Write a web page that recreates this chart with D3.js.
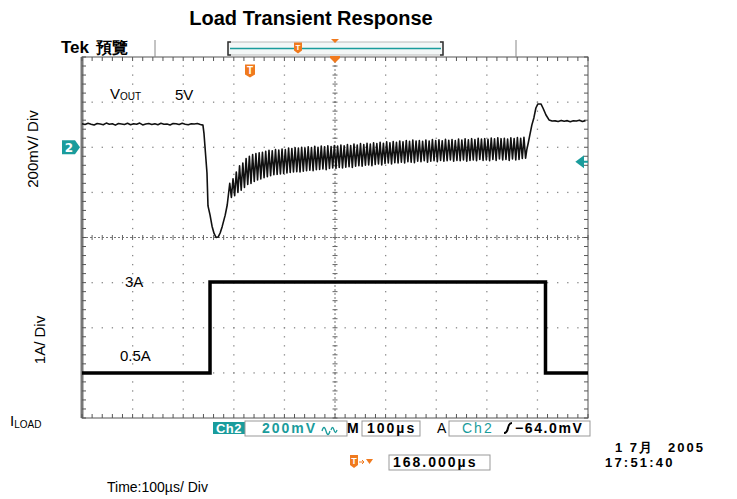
<!DOCTYPE html>
<html>
<head>
<meta charset="utf-8">
<script src="https://cdn.jsdelivr.net/npm/d3@7"></script>
<style>
  body { margin: 0; background: #fff; }
  svg { display: block; }
  text { font-family: "Liberation Sans", Arial, sans-serif; }
  .scope { font-family: "DejaVu Sans", "Noto Sans CJK TC", sans-serif; font-weight: bold; letter-spacing: 2px; }
</style>
</head>
<body>
<svg width="737" height="499"></svg>
<script>
// time axis: 100 µs/div, 10 divisions
const timeDomain = [0, 1000];
// Ch2 VOUT in mV relative to the ch2 marker, 200 mV/div
const voltDomain = [400, -1200];

// flat VOUT before the load step, one sample every 6 µs from t=0
const preStep = 6;
const preFlat = [104, 101, 106, 102, 99, 105, 103, 100, 107, 102, 104, 98, 105, 103, 101, 106, 100, 104, 102, 107,
                 99, 103, 105, 101, 104, 100, 106, 102, 103, 99, 105, 104, 101, 106, 102, 100, 104, 103, 105, 101];

// undershoot after the 0.5A -> 3A step  [µs, mV]
const dropPoints = [[239, 98], [241, 63], [247, -114], [249, -260], [253, -300], [257, -350], [261, -382],
                    [265, -400], [269, -398], [273, -380], [277, -352], [283, -301], [287, -256]];

// switching ripple while loaded: [high, low] mV per cycle, cycle starts at 292 µs
const rippleStart = 292;
const rippleHalf = 3.23;
const ripple = [
  [-160, -222], [-140, -215], [-110, -200], [-82, -190], [-70, -178], [-50, -165], [-40, -160], [-32, -152],
  [-28, -145], [-25, -140], [-22, -135], [-18, -130], [-14, -126], [-16, -122], [-10, -120], [-12, -118],
  [-8, -116], [-10, -114], [-4, -112], [-6, -110], [-2, -108], [-4, -110], [0, -106], [-3, -104],
  [2, -102], [-1, -104], [4, -100], [0, -98], [5, -96], [2, -100], [6, -94], [3, -92],
  [8, -94], [5, -90], [10, -92], [6, -88], [12, -86], [8, -90], [14, -84], [10, -82],
  [16, -84], [12, -80], [18, -78], [14, -82], [20, -76], [16, -74], [22, -78], [18, -72],
  [24, -70], [20, -74], [25, -68], [22, -70], [28, -66], [24, -70], [30, -64], [26, -66],
  [32, -68], [28, -62], [30, -64], [26, -60], [32, -66], [28, -62], [34, -60], [30, -64],
  [33, -58], [29, -62], [35, -60], [31, -56], [34, -62], [30, -58], [36, -60], [32, -56],
  [37, -62], [33, -58], [38, -56], [34, -60], [40, -54], [36, -58], [38, -56], [35, -60],
  [41, -54], [37, -58], [42, -52], [38, -56], [40, -54], [36, -58], [42, -52], [39, -56],
  [43, -54], [40, -50], [44, -48]
];

// overshoot after the 3A -> 0.5A release  [µs, mV]
const recoveryPoints = [[879, -12], [882, 20], [885, 54], [889, 98], [893, 130], [897, 174], [901, 192],
                        [907, 192], [911, 174], [917, 143], [923, 121], [929, 116]];

// flat VOUT after the release, one sample every 6 µs from 935 µs
const postStart = 935;
const postStep = 6;
const postFlat = [117, 114, 119, 115, 118, 113, 117, 116, 120, 114, 118];

// load current step
const loadTimes = [0, 253, 253, 916, 916, 1000];
const loadAmps = [0.5, 0.5, 3, 3, 0.5, 0.5];

const teal = "#1a9c9c";
const orange = "#f07a1e";

const svg = d3.select("svg");
const pL = 82, pR = 588, pT = 57, pB = 418;

const x = d3.scaleLinear().domain(timeDomain).range([pL, pR]);
const yV = d3.scaleLinear().domain(voltDomain).range([pT, pB]);
const yI = d3.scaleLinear().domain([0.5, 3]).range([373, 282]);
const gx = d3.scaleLinear().domain([0, 10]).range([pL, pR]);
const gy = d3.scaleLinear().domain([0, 8]).range([pT, pB]);

// ---- graticule ----
const grid = svg.append("g");
const fifthsX = d3.range(0, 50.5).map(i => i / 5);
const fifthsY = d3.range(0, 40.5).map(i => i / 5);

[1, 2, 3, 4, 6, 7, 8, 9].forEach(i => {
  grid.selectAll(null).data(fifthsY.slice(1, -1)).enter().append("rect")
    .attr("x", gx(i) - 0.6).attr("y", d => gy(d) - 0.6)
    .attr("width", 1.3).attr("height", 1.3).attr("fill", "#888");
});
[1, 2, 3, 5, 6, 7].forEach(j => {
  grid.selectAll(null).data(fifthsX.slice(1, -1)).enter().append("rect")
    .attr("x", d => gx(d) - 0.6).attr("y", gy(j) - 0.6)
    .attr("width", 1.3).attr("height", 1.3).attr("fill", "#888");
});

// center cross with minor ticks
grid.append("line").attr("x1", pL).attr("x2", pR).attr("y1", gy(4)).attr("y2", gy(4))
  .attr("stroke", "#777").attr("stroke-dasharray", "2,2");
grid.append("line").attr("x1", gx(5)).attr("x2", gx(5)).attr("y1", pT).attr("y2", pB)
  .attr("stroke", "#777").attr("stroke-dasharray", "2,2");
grid.selectAll(null).data(fifthsX).enter().append("line")
  .attr("x1", d => gx(d)).attr("x2", d => gx(d)).attr("y1", gy(4) - 2.5).attr("y2", gy(4) + 2.5)
  .attr("stroke", "#666");
grid.selectAll(null).data(fifthsY).enter().append("line")
  .attr("y1", d => gy(d)).attr("y2", d => gy(d)).attr("x1", gx(5) - 2.5).attr("x2", gx(5) + 2.5)
  .attr("stroke", "#666");

// frame with edge ticks
grid.append("rect").attr("x", pL).attr("y", pT).attr("width", pR - pL).attr("height", pB - pT)
  .attr("fill", "none").attr("stroke", "#555");
grid.append("line").attr("x1", pL).attr("x2", pL).attr("y1", pT).attr("y2", pB)
  .attr("stroke", "#777").attr("stroke-width", 3);
grid.selectAll(null).data(fifthsX).enter().append("line")
  .attr("x1", d => gx(d)).attr("x2", d => gx(d)).attr("y1", pT).attr("y2", pT + 4).attr("stroke", "#555");
grid.selectAll(null).data(fifthsX).enter().append("line")
  .attr("x1", d => gx(d)).attr("x2", d => gx(d)).attr("y1", pB - 4).attr("y2", pB).attr("stroke", "#555");
grid.selectAll(null).data(fifthsY).enter().append("line")
  .attr("y1", d => gy(d)).attr("y2", d => gy(d)).attr("x1", pL).attr("x2", pL + 4).attr("stroke", "#555");
grid.selectAll(null).data(fifthsY).enter().append("line")
  .attr("y1", d => gy(d)).attr("y2", d => gy(d)).attr("x1", pR - 4).attr("x2", pR).attr("stroke", "#555");

// ---- traces ----
const voutData = [].concat(
  preFlat.map((v, i) => [i * preStep, v]),
  dropPoints,
  ripple.flatMap((c, k) => [[rippleStart + 2 * k * rippleHalf, c[0]], [rippleStart + (2 * k + 1) * rippleHalf, c[1]]]),
  recoveryPoints,
  postFlat.map((v, i) => [postStart + i * postStep, v])
);

svg.append("path").datum(voutData)
  .attr("fill", "none").attr("stroke", "#111").attr("stroke-width", 1.6).attr("stroke-linejoin", "round")
  .attr("d", d3.line().x(d => x(d[0])).y(d => yV(d[1])));

svg.append("path").datum(loadTimes.map((t, i) => [t, loadAmps[i]]))
  .attr("fill", "none").attr("stroke", "#000").attr("stroke-width", 3.5)
  .attr("d", d3.line().x(d => x(d[0])).y(d => yI(d[1])));

// ---- scope header ----
svg.append("text").attr("x", 61).attr("y", 53).attr("font-family", "Liberation Serif")
  .attr("font-weight", "bold").attr("font-size", 17).text("Tek");
svg.append("text").attr("x", 96).attr("y", 53).attr("font-family", "Noto Sans CJK TC")
  .attr("font-weight", "bold").attr("font-size", 16).text("預覽");
[155, 516].forEach(sx => svg.append("line").attr("x1", sx).attr("x2", sx).attr("y1", 40).attr("y2", 57)
  .attr("stroke", "#888"));
svg.append("rect").attr("x", 228).attr("y", 42).attr("width", 215).attr("height", 13)
  .attr("fill", "#f3f7f7").attr("stroke", "#bbb");
svg.append("path").attr("d", "M231,42 h-3 v13 h3 M440,42 h3 v13 h-3").attr("fill", "none")
  .attr("stroke", "#333").attr("stroke-width", 1.5);
svg.append("line").attr("x1", 230).attr("x2", 441).attr("y1", 48.5).attr("y2", 48.5)
  .attr("stroke", teal).attr("stroke-width", 1.5);

function tMarker(cx, cy, w, h) {
  svg.append("path")
    .attr("d", `M${cx - w / 2},${cy - h / 2} h${w} v${h - 3} l${-w / 2},3 l${-w / 2},-3 z`)
    .attr("fill", orange);
  svg.append("text").attr("x", cx).attr("y", cy + h / 2 - 4).attr("text-anchor", "middle")
    .attr("font-size", h - 3).attr("font-weight", "bold").attr("fill", "#fff").text("T");
}
tMarker(298, 48, 8, 11);
tMarker(250, 71, 10, 13);
svg.append("path").attr("d", "M331,39 h8 l-4,4 z").attr("fill", orange);
svg.append("path").attr("d", "M330,56 h10 v2 l-5,5 l-5,-5 z").attr("fill", orange);

// ch2 ground marker and trigger level
svg.append("path").attr("d", `M62,${yV(0) - 7} h13 l5,7 l-5,7 h-13 z`).attr("fill", teal);
svg.append("text").attr("class", "scope").style("letter-spacing", "0").attr("x", 69).attr("y", yV(0) + 4.5)
  .attr("text-anchor", "middle").attr("font-size", 12).attr("fill", "#fff").text("2");
svg.append("path").attr("d", `M577,${yV(-64)} l6,-4.5 v9 z M582,${yV(-64)} h6`)
  .attr("fill", teal).attr("stroke", teal).attr("stroke-width", 2);

// ---- annotations ----
svg.append("text").attr("x", 311).attr("y", 25).attr("text-anchor", "middle")
  .attr("font-size", 20).attr("font-weight", "bold").text("Load Transient Response");

const vout = svg.append("text").attr("x", 110).attr("y", 99).attr("font-size", 15);
vout.append("tspan").text("V");
vout.append("tspan").attr("font-size", 10).attr("dy", 1).text("OUT");
svg.append("text").attr("x", 175).attr("y", 100).attr("font-size", 15).text("5V");
svg.append("text").attr("x", 125).attr("y", 287).attr("font-size", 15).text("3A");
svg.append("text").attr("x", 120).attr("y", 361).attr("font-size", 15).text("0.5A");

svg.append("text").attr("transform", "translate(38,149) rotate(-90)").attr("text-anchor", "middle")
  .attr("font-size", 15).text("200mV/ Div");
svg.append("text").attr("transform", "translate(45,340) rotate(-90)").attr("text-anchor", "middle")
  .attr("font-size", 15).text("1A/ Div");

const iload = svg.append("text").attr("x", 10).attr("y", 426).attr("font-size", 15);
iload.append("tspan").text("I");
iload.append("tspan").attr("font-size", 10).attr("dy", 2).text("LOAD");

svg.append("text").attr("x", 107).attr("y", 492).attr("font-size", 14).text("Time:100µs/ Div");

// ---- scope status bar ----
const sb = svg.append("g").attr("class", "scope").attr("font-size", 14);
sb.append("rect").attr("x", 213).attr("y", 422).attr("width", 32).attr("height", 12).attr("fill", teal);
sb.append("text").attr("x", 229).attr("y", 433).attr("text-anchor", "middle").attr("font-size", 13)
  .style("letter-spacing", "0.5px").attr("fill", "#fff").text("Ch2");
sb.append("rect").attr("x", 245).attr("y", 421).attr("width", 102).attr("height", 15)
  .attr("fill", "none").attr("stroke", "#999");
sb.append("text").attr("x", 262).attr("y", 433).attr("fill", teal).text("200mV");
sb.append("path").attr("d", "M322,431 q2,-7 4,0 t4,0 M331,430 q1.5,-5 3,0 t3,0")
  .attr("fill", "none").attr("stroke", teal).attr("stroke-width", 1.3);
sb.append("text").attr("x", 347).attr("y", 433).text("M");
sb.append("rect").attr("x", 362).attr("y", 421).attr("width", 58).attr("height", 15)
  .attr("fill", "none").attr("stroke", "#999");
sb.append("text").attr("x", 367).attr("y", 433).text("100µs");
sb.append("text").attr("x", 437).attr("y", 433).attr("font-weight", "normal").text("A");
sb.append("rect").attr("x", 449).attr("y", 421).attr("width", 141).attr("height", 15)
  .attr("fill", "none").attr("stroke", "#999");
sb.append("text").attr("x", 462).attr("y", 433).attr("fill", teal).attr("font-weight", "normal").text("Ch2");
sb.append("path").attr("d", "M504,433 q3,0 4,-5 q1,-5 4,-5").attr("fill", "none")
  .attr("stroke", "#000").attr("stroke-width", 2);
sb.append("text").attr("x", 515).attr("y", 433).style("letter-spacing", "1.6px").text("−64.0mV");

// second row: trigger position and date
svg.append("path").attr("d", "M350,455 h8 v10 l-4,3 l-4,-3 z").attr("fill", orange);
svg.append("text").attr("x", 354).attr("y", 464).attr("text-anchor", "middle").attr("font-size", 9)
  .attr("font-weight", "bold").attr("fill", "#fff").text("T");
svg.append("path").attr("d", "M359,462 h5 M362,460 l2,2 l-2,2").attr("stroke", orange).attr("fill", "none");
svg.append("path").attr("d", "M366,459 h7 l-3.5,5 z").attr("fill", orange);
sb.append("rect").attr("x", 389).attr("y", 455).attr("width", 101).attr("height", 15)
  .attr("fill", "none").attr("stroke", "#999");
sb.append("text").attr("x", 393).attr("y", 467).text("168.000µs");
sb.append("text").attr("x", 615).attr("y", 452).attr("font-size", 13).text("1 7月");
sb.append("text").attr("x", 668).attr("y", 452).attr("font-size", 13).text("2005");
sb.append("text").attr("x", 605).attr("y", 467).attr("font-size", 13).style("letter-spacing", "2.2px").text("17:51:40");
</script>
</body>
</html>
